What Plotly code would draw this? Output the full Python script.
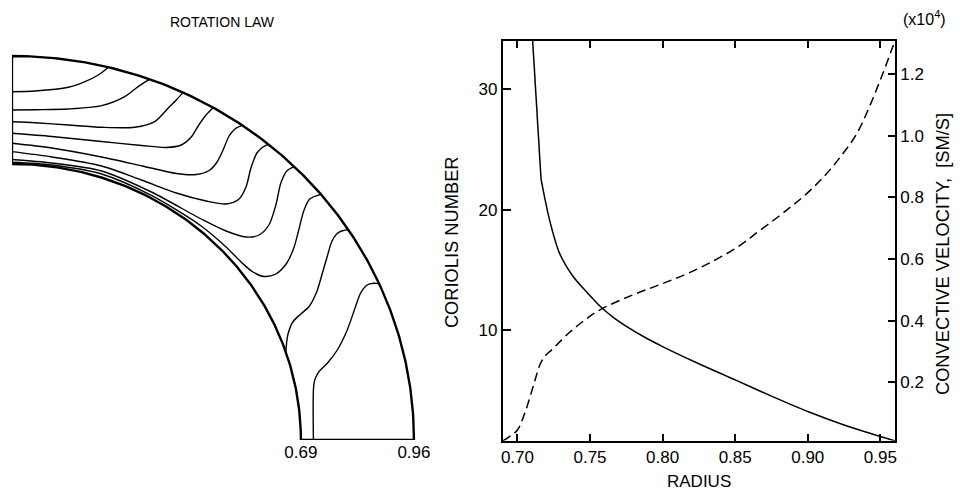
import numpy as np
import plotly.graph_objects as go

W, H = 960, 494
FONT = "Liberation Sans, Arial, Helvetica, sans-serif"

# ---------------- left panel: rotation law (isolines in the meridional plane) -------------
R_INNER = 0.69
R_OUTER = 0.96
shell_tick_vals = [0.69, 0.96]
shell_tick_text = ["0.69", "0.96"]

iso1_x = [0.0, 0.0554, 0.1348, 0.1743, 0.2062, 0.2306]
iso1_y = [0.8708, 0.8725, 0.8818, 0.8958, 0.9125, 0.9319]

iso2_x = [0.0, 0.0554, 0.1348, 0.2140, 0.2694, 0.3013, 0.329]
iso2_y = [0.825, 0.8258, 0.8275, 0.8358, 0.8583, 0.8833, 0.902]

iso3_x = [0.0, 0.0554, 0.1348, 0.2140, 0.2932, 0.3408, 0.3727, 0.3924, 0.409]
iso3_y = [0.7958, 0.7933, 0.7875, 0.7818, 0.7818, 0.7958, 0.8293, 0.85, 0.869]

iso4_x = [0.0, 0.0951, 0.2140, 0.3092, 0.3686, 0.4043, 0.4281, 0.4447, 0.4614, 0.4797]
iso4_y = [0.7668, 0.7588, 0.7463, 0.7363, 0.7313, 0.7375, 0.7575, 0.785, 0.81, 0.83]

iso5_x = [0.0, 0.0951, 0.2140, 0.3163, 0.3924, 0.4400, 0.4709, 0.4899, 0.5042, 0.5185, 0.5327, 0.550]
iso5_y = [0.7418, 0.73, 0.7075, 0.6838, 0.6663, 0.6638, 0.6738, 0.695, 0.725, 0.76, 0.7775, 0.787]

iso6_x = [0.0, 0.0951, 0.2140, 0.3092, 0.3924, 0.4637, 0.5113, 0.5422, 0.5589, 0.5707, 0.5850, 0.5993, 0.612]
iso6_y = [0.7208, 0.7075, 0.685, 0.65, 0.6175, 0.5975, 0.59, 0.6025, 0.6325, 0.68, 0.7175, 0.7325, 0.739]

iso7_x = [0.0, 0.0951, 0.2140, 0.3329, 0.4518, 0.5113, 0.5589, 0.5898, 0.6136, 0.6302, 0.6421, 0.6564, 0.6737]
iso7_y = [0.7013, 0.6925, 0.6725, 0.62, 0.5525, 0.5225, 0.5075, 0.5125, 0.5375, 0.5875, 0.6425, 0.6725, 0.6833]

iso8_x = [0.0, 0.0951, 0.2140, 0.3329, 0.4518, 0.5113, 0.5470, 0.5755, 0.6017, 0.6302, 0.6564, 0.6730,
          0.6849, 0.6968, 0.7111, 0.738]
iso8_y = [0.6943, 0.6875, 0.665, 0.6113, 0.535, 0.4825, 0.445, 0.42, 0.4088, 0.415, 0.4425, 0.48,
          0.525, 0.5725, 0.6025, 0.614]

iso9_x = [0.654, 0.6587, 0.6706, 0.6897, 0.7087, 0.7277, 0.7420, 0.7539, 0.7634, 0.7753, 0.7872, 0.803]
iso9_y = [0.22, 0.2625, 0.295, 0.315, 0.3325, 0.37, 0.42, 0.4625, 0.495, 0.515, 0.5225, 0.526]

iso10_x = [0.7199, 0.7199, 0.7230, 0.7332, 0.7531, 0.7769, 0.8007, 0.8204, 0.8323, 0.8482, 0.8641, 0.877]
iso10_y = [0.0, 0.125, 0.15, 0.1708, 0.1918, 0.225, 0.275, 0.3333, 0.3668, 0.3875, 0.3918, 0.391]

isolines = [(iso1_x, iso1_y), (iso2_x, iso2_y), (iso3_x, iso3_y), (iso4_x, iso4_y), (iso5_x, iso5_y),
            (iso6_x, iso6_y), (iso7_x, iso7_y), (iso8_x, iso8_y), (iso9_x, iso9_y), (iso10_x, iso10_y)]

# ---------------- right panel: Coriolis number and convective velocity -------------
radius_co = [0.7100, 0.7163, 0.7220, 0.7289, 0.7380, 0.7480, 0.7575, 0.7660, 0.7770, 0.7880,
             0.8000, 0.8250, 0.8500, 0.8750, 0.9000, 0.9250, 0.9500, 0.9600]
coriolis = [35.0, 22.5, 19.2, 16.4, 14.5, 13.1, 11.9, 11.05, 10.15, 9.37,
            8.62, 7.19, 5.85, 4.5, 3.22, 2.1, 1.15, 0.8]

radius_v = [0.690, 0.695, 0.700, 0.7058, 0.7115, 0.716, 0.720, 0.724, 0.7354, 0.7472, 0.7575,
            0.7791, 0.7975, 0.8204, 0.850, 0.8662, 0.879, 0.889, 0.8963, 0.905, 0.9135, 0.9235,
            0.9335, 0.9425, 0.9515, 0.960]
velocity = [0.010, 0.025, 0.045, 0.11, 0.197, 0.262, 0.29, 0.307, 0.36, 0.405, 0.437,
            0.483, 0.516, 0.56, 0.634, 0.69, 0.735, 0.772, 0.80, 0.838, 0.880, 0.938,
            1.005, 1.095, 1.20, 1.308]

radius_ticks = [0.70, 0.75, 0.80, 0.85, 0.90, 0.95]
radius_tick_text = ["0.70", "0.75", "0.80", "0.85", "0.90", "0.95"]
co_ticks = [10, 20, 30]
v_ticks = [0.2, 0.4, 0.6, 0.8, 1.0, 1.2]
v_tick_text = ["0.2", "0.4", "0.6", "0.8", "1.0", "1.2"]

fig = go.Figure()

# shell outline (inner and outer boundary circles, pole axis and equator)
th = np.linspace(0, np.pi / 2, 181)
frame_x = list(R_INNER * np.sin(th)) + list(R_OUTER * np.sin(th[::-1])) + [0.0, 0.0]
frame_y = list(R_INNER * np.cos(th)) + list(R_OUTER * np.cos(th[::-1])) + [R_OUTER, R_INNER]
fig.add_trace(go.Scatter(x=frame_x, y=frame_y, mode="lines",
                         line=dict(color="black", width=2.4), xaxis="x", yaxis="y",
                         hoverinfo="skip", showlegend=False))

for xs, ys in isolines:
    fig.add_trace(go.Scatter(x=xs, y=ys, mode="lines",
                             line=dict(color="black", width=1.4, shape="spline", smoothing=0.8),
                             xaxis="x", yaxis="y", hoverinfo="skip", showlegend=False))

# Coriolis number: steep straight segment at the base, smooth curve beyond
fig.add_trace(go.Scatter(x=radius_co[:2], y=coriolis[:2], mode="lines", name="Coriolis number",
                         line=dict(color="black", width=1.5), xaxis="x2", yaxis="y2",
                         showlegend=False))
fig.add_trace(go.Scatter(x=radius_co[1:], y=coriolis[1:], mode="lines", name="Coriolis number",
                         line=dict(color="black", width=1.5, shape="spline", smoothing=0.8),
                         xaxis="x2", yaxis="y2", showlegend=False))
fig.add_trace(go.Scatter(x=radius_v, y=velocity, mode="lines", name="Convective velocity",
                         line=dict(color="black", width=1.5, dash="9px,5px", shape="spline",
                                   smoothing=1.0),
                         xaxis="x2", yaxis="y3", showlegend=False))

def py(Y):
    return (H - Y) / H

fig.update_layout(
    width=W, height=H,
    margin=dict(l=0, r=0, t=0, b=0),
    paper_bgcolor="white", plot_bgcolor="rgba(0,0,0,0)",
    font=dict(family=FONT, size=17, color="black"),
    showlegend=False,
    xaxis=dict(domain=[10 / W, 430.5 / W], range=[0, 1], showgrid=False, zeroline=False,
               showline=False, ticks="", tickvals=shell_tick_vals, ticktext=shell_tick_text,
               tickfont=dict(size=17), anchor="y", fixedrange=True),
    yaxis=dict(domain=[py(440), py(40)], range=[0, 1], visible=False, anchor="x",
               fixedrange=True),
    xaxis2=dict(domain=[503 / W, 896.6 / W], range=[0.69, 0.96], anchor="y2",
                showgrid=False, zeroline=False, showline=True, linecolor="black", linewidth=2,
                mirror="ticks", ticks="inside", ticklen=7, tickwidth=2, tickcolor="black",
                tickvals=radius_ticks, ticktext=radius_tick_text, tickfont=dict(size=17)),
    yaxis2=dict(domain=[py(440.7), py(41)], range=[0.8, 34.0], anchor="x2",
                showgrid=False, zeroline=False, showline=True, linecolor="black", linewidth=2,
                ticks="inside", ticklen=8, tickwidth=2, tickcolor="black",
                tickvals=co_ticks, tickfont=dict(size=17)),
    yaxis3=dict(domain=[py(440.7), py(41)], range=[0.0104, 1.308], anchor="x2",
                overlaying="y2", side="right",
                showgrid=False, zeroline=False, showline=True, linecolor="black", linewidth=2,
                ticks="inside", ticklen=7, tickwidth=2, tickcolor="black",
                tickvals=v_ticks, ticktext=v_tick_text, tickfont=dict(size=17)),
    annotations=[
        dict(text="ROTATION LAW", x=221.5 / W, y=py(21.7), xref="paper", yref="paper",
             showarrow=False, xanchor="center", yanchor="middle", font=dict(size=14)),
        dict(text="RADIUS", x=699.5 / W, y=py(481), xref="paper", yref="paper",
             showarrow=False, xanchor="center", yanchor="middle", font=dict(size=17)),
        dict(text="CORIOLIS NUMBER", x=452 / W, y=py(242), xref="paper", yref="paper",
             showarrow=False, xanchor="center", yanchor="middle", textangle=-90,
             font=dict(size=18.3)),
        dict(text="CONVECTIVE VELOCITY,&nbsp; [SM/S]", x=944 / W, y=py(254), xref="paper",
             yref="paper", showarrow=False, xanchor="center", yanchor="middle", textangle=-90,
             font=dict(size=18.3)),
        dict(text="(x10<sup>4</sup>)", x=926.5 / W, y=py(18), xref="paper", yref="paper",
             showarrow=False, xanchor="center", yanchor="middle", font=dict(size=16)),
    ],
)

fig.write_html("out.html", config={"displayModeBar": False},
               post_script="document.body.style.margin='0';document.body.style.overflow='hidden';")
